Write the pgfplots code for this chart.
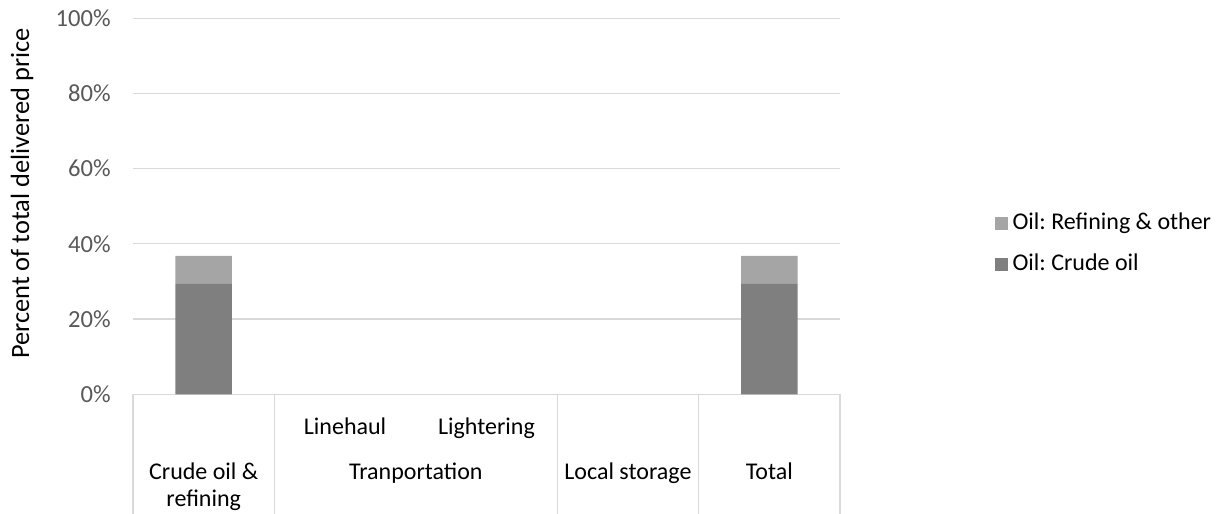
\documentclass[border=0pt]{standalone}
\usepackage{pgfplots}
\usepackage{pgfplotstable}
\pgfplotsset{compat=1.18}
\usepackage{fontspec}
\setmainfont{Carlito}
\frenchspacing

\definecolor{crude}{HTML}{7F7F7F}
\definecolor{refine}{HTML}{A5A5A5}
\definecolor{gridgray}{HTML}{D9D9D9}
\definecolor{ticktext}{HTML}{595959}

\pgfplotstableread{
x crude refining
0 29.4 7.4
4 29.4 7.4
}\oilshare

\begin{document}
\begin{tikzpicture}
\useasboundingbox (0,0) rectangle (612.5bp,257bp);
\begin{axis}[
  at={(66.5bp,59.85bp)}, anchor=south west,
  scale only axis, width=353.5bp, height=188bp,
  ybar stacked, bar width=0.4,
  xmin=-0.5, xmax=4.5, ymin=0, ymax=100,
  xtick=\empty,
  ytick={0,20,...,100},
  yticklabel={\pgfmathprintnumber{\tick}\%},
  /pgf/number format/assume math mode=true,
  yticklabel style={font=\fontsize{12.3bp}{14bp}\selectfont, text=ticktext, anchor=east, inner sep=0pt, xshift=-11bp},
  major tick length=0pt,
  axis lines*=left,
  x axis line style={draw=gridgray, line width=0.6bp, -},
  y axis line style={draw=none},
  ymajorgrids, grid style={draw=gridgray, line width=0.6bp},
  ylabel={Percent of total delivered price},
  ylabel style={at={(axis description cs:-0.157,0.534)}, anchor=center, font=\fontsize{13.2bp}{15bp}\selectfont, text=black},
  clip=false,
  reverse legend,
  legend style={at={(axis description cs:1.218,0.401)}, anchor=west,
    draw=none, fill=none, inner sep=0pt, row sep=9.5bp,
    font=\fontsize{12bp}{14bp}\selectfont,
    nodes={inner sep=0pt, inner xsep=2.5bp, text height=8.5bp, text depth=2.5bp, anchor=west}},
  legend image code/.code={\fill[#1] (0bp,-3.25bp) rectangle (6.5bp,3.25bp);},
]
\addplot[fill=crude, draw=none] table[x=x, y=crude] {\oilshare};
\addlegendentry{Oil: Crude oil}
\addplot[fill=refine, draw=none] table[x=x, y=refining] {\oilshare};
\addlegendentry{Oil: Refining \& other}

% category separators below the axis
\pgfplotsinvokeforeach{-0.5,0.5,2.5,3.5,4.5}{
  \draw[gridgray, line width=0.6bp] (axis cs:#1,0) -- ++(0pt,-59.85bp);
}
% category labels (two levels)
\node[anchor=base, inner sep=0pt, font=\fontsize{12bp}{14bp}\selectfont] at (axis cs:1,0) [yshift=-20.1bp] {Linehaul};
\node[anchor=base, inner sep=0pt, font=\fontsize{12bp}{14bp}\selectfont] at (axis cs:2,0) [yshift=-20.1bp] {Lightering};
\node[anchor=base, inner sep=0pt, font=\fontsize{12bp}{14bp}\selectfont] at (axis cs:0,0) [yshift=-42.5bp] {Crude oil \&};
\node[anchor=base, inner sep=0pt, font=\fontsize{12bp}{14bp}\selectfont] at (axis cs:0,0) [yshift=-56.2bp] {refining};
\node[anchor=base, inner sep=0pt, font=\fontsize{12bp}{14bp}\selectfont] at (axis cs:1.5,0) [yshift=-42.5bp] {Tranportation};
\node[anchor=base, inner sep=0pt, font=\fontsize{12bp}{14bp}\selectfont] at (axis cs:3,0) [yshift=-42.5bp] {Local storage};
\node[anchor=base, inner sep=0pt, font=\fontsize{12bp}{14bp}\selectfont] at (axis cs:4,0) [yshift=-42.5bp] {Total};
\end{axis}
\end{tikzpicture}
\end{document}
